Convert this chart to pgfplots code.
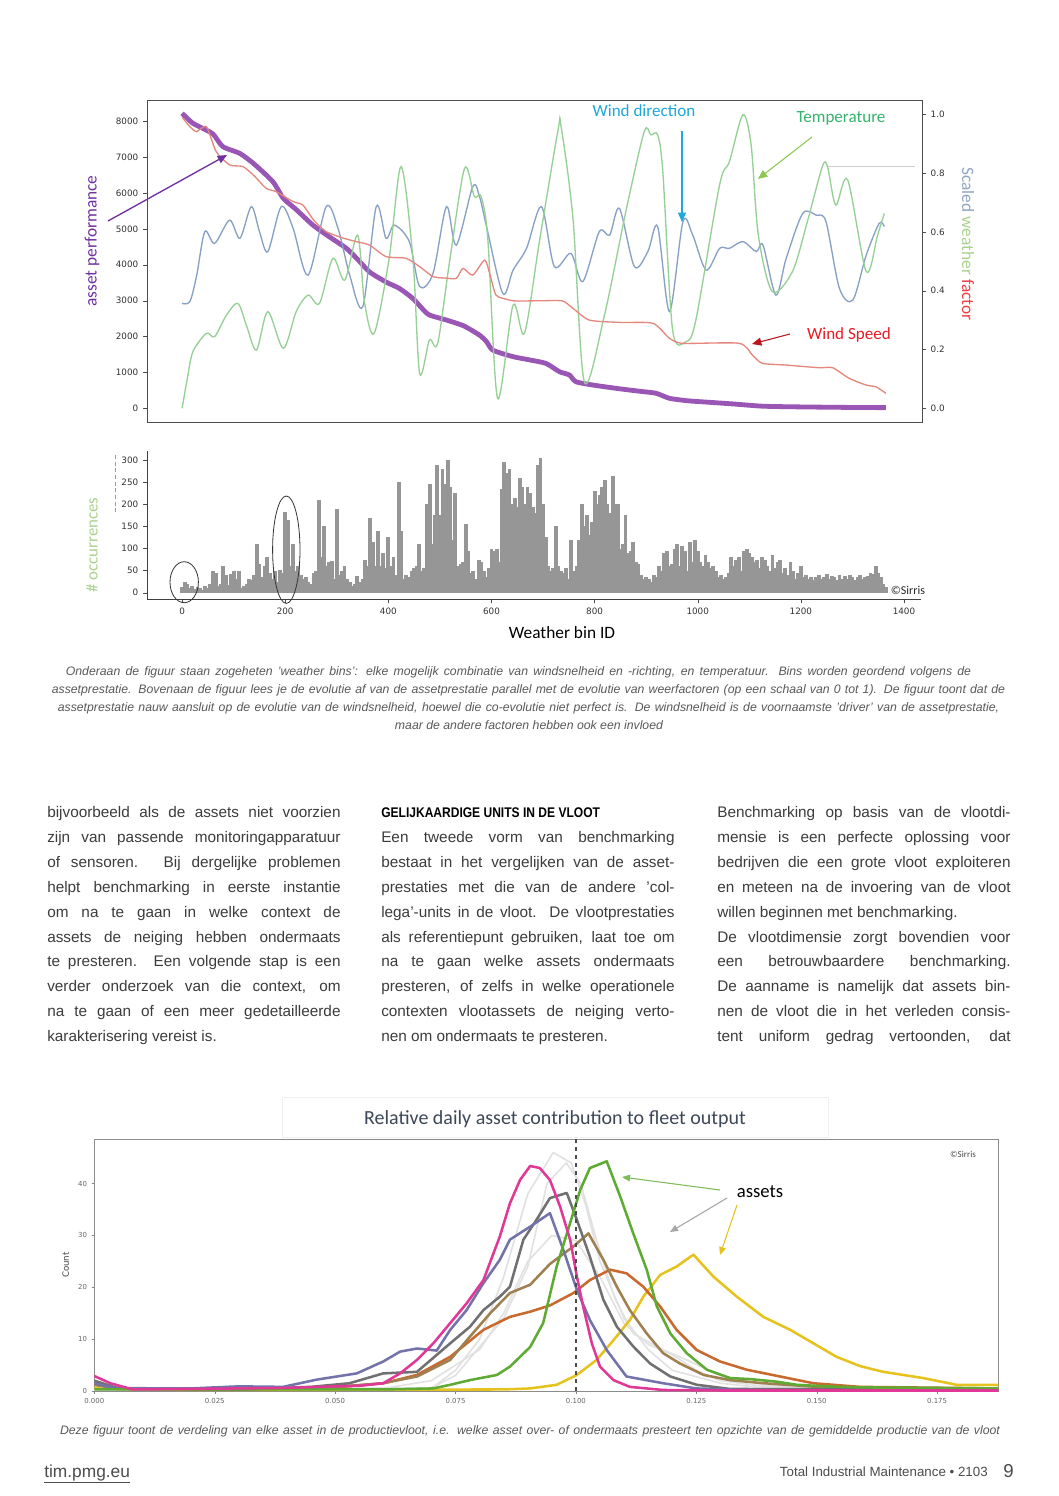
\documentclass[border=0pt]{standalone}
\usepackage{fontspec}
\setmainfont{Liberation Sans}
\newfontfamily\carlito{Carlito}
\newfontfamily\dejavu{DejaVu Sans}
\usepackage{pgfplots}
\pgfplotsset{compat=1.18}
\usetikzlibrary{arrows.meta}

\definecolor{perf}{RGB}{142,68,173}
\definecolor{perflab}{RGB}{112,48,160}
\definecolor{wspeed}{RGB}{228,135,125}
\definecolor{wdir}{RGB}{135,160,196}
\definecolor{temp}{RGB}{150,208,150}
\definecolor{labdir}{RGB}{30,168,220}
\definecolor{labtemp}{RGB}{52,180,108}
\definecolor{labspeed}{RGB}{232,28,36}
\definecolor{arrtemp}{RGB}{140,200,80}
\definecolor{lightgreen}{RGB}{169,209,142}
\definecolor{scaledblue}{RGB}{142,165,195}
\definecolor{histgray}{RGB}{150,150,150}
\definecolor{cmag}{RGB}{225,55,150}
\definecolor{cslate}{RGB}{115,115,170}
\definecolor{cdgray}{RGB}{112,112,112}
\definecolor{ctan}{RGB}{160,128,80}
\definecolor{corange}{RGB}{200,105,45}
\definecolor{cgreen}{RGB}{95,170,50}
\definecolor{cyellow}{RGB}{230,194,30}
\definecolor{cfaint}{RGB}{225,225,225}
\definecolor{bodytext}{RGB}{60,60,60}
\definecolor{titlecol}{RGB}{60,72,88}

% one justified text line: x, baseline y, text
\newcommand\jl[3]{\node[anchor=base west,inner sep=0] at (#1,#2) {\makebox[220pt][s]{#3}};}
\newcommand\lastline[3]{\node[anchor=base west,inner sep=0] at (#1,#2) {#3};}

\begin{document}
\begin{tikzpicture}[x=0.75pt,y=0.75pt]
\fill[white] (0,0) rectangle (1058,-1496);
\path[use as bounding box] (0,0) rectangle (1058,-1496);

%%%%%%%%%%%%%%%% top chart: asset performance (left axis)
\begin{axis}[
  at={(110.25pt,-75pt)}, anchor=north west,
  width=581.25pt, height=241.5pt, scale only axis,
  xmin=-68, xmax=1433, ymin=-380, ymax=8590,
  xtick=\empty,
  ytick={0,1000,2000,3000,4000,5000,6000,7000,8000},
  yticklabels={0,1000,2000,3000,4000,5000,6000,7000,8000},
  ytick pos=left, tick align=outside,
  major tick length=3pt,
  axis line style={black!70},
  tick style={black!70},
  yticklabel style={font=\dejavu\fontsize{6.6}{8}\selectfont, text=black!80},
]
\addplot[perf, line width=3.6pt, smooth, tension=0.4, opacity=0.9] coordinates {
(0,8220) (20,7950) (40,7800) (60,7640) (79,7290) (112,7100) (140,6800) (176,6310)
(196,5850) (220,5550) (253,5110) (285,4780) (318,4460) (340,4150) (363,3800)
(395,3520) (421,3340) (447,3060) (465,2780) (479,2600) (512,2460) (545,2300)
(576,2040) (590,1850) (602,1620) (641,1440) (673,1350) (705,1250) (731,1020)
(750,930) (763,740) (800,640) (850,540) (890,470) (918,420) (944,280) (980,210)
(1020,170) (1070,120) (1125,60) (1200,40) (1300,25) (1363,20)};
\end{axis}

%%%%%%%%%%%%%%%% top chart: scaled weather factors (right axis)
\begin{axis}[
  at={(110.25pt,-75pt)}, anchor=north west,
  width=581.25pt, height=241.5pt, scale only axis,
  xmin=-68, xmax=1433, ymin=-0.0466, ymax=1.0486,
  hide x axis, axis y line*=right, axis line style={black!70,-},
  ytick={0,0.2,0.4,0.6,0.8,1.0},
  yticklabels={0.0,0.2,0.4,0.6,0.8,1.0},
  tick align=outside, major tick length=3pt, tick style={black!70},
  yticklabel style={font=\dejavu\fontsize{6.6}{8}\selectfont, text=black!80},
]
\addplot[wdir, line width=1pt, smooth, tension=0.5] coordinates {
(0,0.357) (15,0.363) (28,0.45) (44,0.601) (63,0.561) (92,0.640) (112,0.578)
(134,0.686) (150,0.60) (166,0.533) (192,0.686) (215,0.612) (244,0.453) (279,0.686)
(302,0.612) (325,0.45) (350,0.346) (376,0.686) (395,0.578) (411,0.623) (440,0.567)
(460,0.414) (486,0.459) (512,0.686) (531,0.555) (563,0.754) (576,0.720) (589,0.623)
(621,0.391) (641,0.470) (667,0.544) (696,0.686) (721,0.482) (753,0.527) (776,0.431)
(808,0.601) (828,0.589) (847,0.680) (876,0.482) (902,0.533) (921,0.618) (944,0.329)
(970,0.635) (989,0.589) (1015,0.470) (1041,0.544) (1060,0.544) (1086,0.567)
(1112,0.533) (1125,0.555) (1150,0.385) (1170,0.510) (1202,0.663) (1228,0.657)
(1247,0.635) (1273,0.408) (1299,0.368) (1325,0.521) (1350,0.629) (1360,0.618)};
\addplot[temp, line width=1pt, smooth, tension=0.5] coordinates {
(0,0.0) (10,0.10) (21,0.193) (47,0.255) (63,0.244) (86,0.317) (108,0.357) (125,0.28)
(144,0.198) (166,0.329) (196,0.204) (221,0.329) (244,0.385) (266,0.357) (292,0.510)
(315,0.436) (340,0.589) (353,0.363) (372,0.255) (401,0.510) (424,0.822) (447,0.510)
(460,0.119) (479,0.232) (495,0.221) (518,0.499) (547,0.816) (566,0.720) (579,0.720)
(592,0.578) (611,0.034) (641,0.351) (663,0.255) (692,0.567) (728,0.946) (734,0.958)
(757,0.646) (779,0.090) (818,0.317) (860,0.674) (895,0.941) (908,0.930) (921,0.930)
(931,0.805) (950,0.266) (976,0.227) (995,0.300) (1041,0.760) (1060,0.839)
(1086,0.998) (1102,0.896) (1116,0.589) (1143,0.397) (1182,0.465) (1211,0.635)
(1240,0.822) (1250,0.822) (1266,0.691) (1289,0.777) (1325,0.465) (1347,0.589)
(1360,0.663)};
\addplot[wspeed, line width=1pt, smooth, tension=0.4] coordinates {
(0,0.99) (15,0.958) (28,0.941) (47,0.958) (66,0.873) (92,0.828) (118,0.822)
(140,0.79) (163,0.748) (182,0.737) (215,0.703) (234,0.691) (255,0.64) (279,0.601)
(310,0.58) (337,0.567) (363,0.555) (395,0.516) (434,0.510) (460,0.482) (486,0.448)
(510,0.443) (531,0.442) (544,0.476) (563,0.453) (586,0.504) (597,0.45) (608,0.385)
(630,0.37) (647,0.365) (700,0.366) (737,0.365) (757,0.340) (789,0.300) (850,0.292)
(912,0.289) (944,0.238) (970,0.221) (1079,0.221) (1105,0.18) (1124,0.153)
(1170,0.147) (1234,0.138) (1260,0.138) (1292,0.102) (1325,0.079) (1344,0.073)
(1363,0.051)};
\end{axis}

% top chart annotations
\draw[black!20, line width=0.5pt] (828,-166) -- (915,-166);
\node[font=\carlito\fontsize{13}{15}\selectfont, text=perflab, rotate=90] at (92,-241) {asset performance};
\node[font=\carlito\fontsize{13}{15}\selectfont, rotate=-90] at (968,-244)
  {\textcolor{scaledblue}{Scaled} \textcolor{lightgreen}{weather} \textcolor{labspeed!85}{factor}};
\node[font=\carlito\fontsize{12.8}{15}\selectfont, text=labdir] at (644,-111) {Wind direction};
\node[font=\carlito\fontsize{12.8}{15}\selectfont, text=labtemp] at (841,-118) {Temperature};
\node[font=\carlito\fontsize{12.8}{15}\selectfont, text=labspeed] at (849,-335) {Wind Speed};
\draw[labdir, line width=0.8pt, -{Triangle[length=7pt,width=6pt]}] (682,-131) -- (682,-222);
\draw[arrtemp, line width=0.8pt, -{Triangle[length=7pt,width=6pt]}] (812,-137) -- (758,-179);
\draw[labspeed!80!black, line width=0.8pt, -{Triangle[length=7pt,width=6pt]}] (790,-334) -- (752,-344);
\draw[perflab, line width=1pt, -{Triangle[length=7pt,width=6pt]}] (108,-221) -- (227,-155);

%%%%%%%%%%%%%%%% occurrences histogram
\begin{axis}[
  at={(110.25pt,-449.475pt)}, anchor=south west,
  width=580.5pt, height=111pt, scale only axis,
  xmin=-68, xmax=1433, ymin=-15, ymax=320,
  axis x line*=bottom, axis y line*=left, axis line style={black!75,-},
  xtick={0,200,400,600,800,1000,1200,1400},
  xticklabels={0,200,400,600,800,1000,1200,1400},
  ytick={0,50,100,150,200,250,300},
  yticklabels={0,50,100,150,200,250,300},
  tick align=outside, major tick length=3pt, tick style={black!70},
  ticklabel style={font=\dejavu\fontsize{6.6}{8}\selectfont, text=black!80},
]
\addplot[ycomb, histgray, line width=2.9pt] coordinates {
(0,12)(5,25)(10,20)(15,10)(20,14)(25,8)(30,12)(35,10)(40,6)(45,14)(50,10)(55,20)(60,50)(65,45)
(70,15)(75,20)(80,60)(85,40)(90,18)(95,42)(100,48)(105,30)(110,50)(115,10)(120,15)(125,20)
(130,32)(135,28)(140,40)(145,110)(150,65)(155,35)(160,60)(165,80)(170,45)(175,30)(180,50)
(185,25)(190,52)(195,45)(200,183)(205,165)(210,60)(215,110)(220,50)(225,60)(230,40)(235,32)
(240,35)(245,25)(250,20)(255,45)(260,50)(265,210)(270,80)(275,150)(280,60)(285,70)(290,72)
(295,30)(300,190)(305,40)(310,50)(315,60)(320,30)(325,25)(330,15)(335,20)(340,38)(345,25)
(350,30)(355,75)(360,60)(365,170)(370,115)(375,60)(380,140)(385,60)(390,90)(395,55)(400,125)
(405,60)(410,80)(415,40)(420,250)(425,140)(430,30)(435,40)(440,35)(445,50)(450,55)(455,60)
(460,110)(465,50)(470,55)(475,200)(480,245)(485,110)(490,175)(495,290)(500,175)(505,280)
(510,245)(515,300)(520,240)(525,120)(530,225)(535,60)(540,65)(545,70)(550,155)(555,95)
(560,45)(565,50)(570,30)(575,75)(580,70)(585,50)(590,35)(595,55)(600,100)(605,95)(610,100)
(615,70)(620,235)(625,295)(630,270)(635,280)(640,200)(645,215)(650,195)(655,260)(660,240)
(665,200)(670,240)(675,225)(680,195)(685,180)(690,290)(695,305)(700,200)(705,125)(710,60)
(715,50)(720,55)(725,150)(730,60)(735,50)(740,45)(745,55)(750,30)(755,120)(760,50)(765,60)
(770,120)(775,200)(780,150)(785,175)(790,130)(795,160)(800,230)(805,200)(810,220)(815,240)
(820,255)(825,200)(830,180)(835,265)(840,200)(845,200)(850,100)(855,110)(860,175)(865,90)
(870,95)(875,115)(880,70)(885,65)(890,40)(895,30)(900,35)(905,30)(910,25)(915,40)(920,35)
(925,60)(930,50)(935,90)(940,95)(945,60)(950,65)(955,100)(960,110)(965,60)(970,105)(975,95)
(980,50)(985,115)(990,70)(995,120)(1000,95)(1005,70)(1010,60)(1015,85)(1020,70)(1025,55)
(1030,60)(1035,50)(1040,35)(1045,40)(1050,30)(1055,35)(1060,45)(1065,80)(1070,60)(1075,75)
(1080,80)(1085,50)(1090,95)(1095,100)(1100,90)(1105,80)(1110,70)(1115,75)(1120,55)(1125,80)
(1130,75)(1135,60)(1140,50)(1145,85)(1150,55)(1155,70)(1160,75)(1165,45)(1170,55)(1175,40)
(1180,70)(1185,50)(1190,30)(1195,45)(1200,60)(1205,35)(1210,40)(1215,30)(1220,35)(1225,28)
(1230,35)(1235,40)(1240,30)(1245,35)(1250,42)(1255,30)(1260,38)(1265,35)(1270,28)(1275,40)
(1280,32)(1285,38)(1290,30)(1295,40)(1300,35)(1305,28)(1310,35)(1315,40)(1320,30)(1325,35)
(1330,38)(1335,45)(1340,42)(1345,60)(1350,45)(1355,35)(1360,20)(1365,12)};
\end{axis}

\node[font=\carlito\fontsize{12.6}{15}\selectfont, text=lightgreen, rotate=90] at (92,-545) {\# occurrences};
\draw[black!40, densely dashed, line width=0.4pt] (115,-455) -- (115,-513);
\node[font=\carlito\fontsize{13}{15}\selectfont] at (562,-633) {Weather bin ID};
\node[font=\carlito\fontsize{9}{11}\selectfont, text=black!85] at (908,-590) {\copyright Sirris};
\draw[black!80, line width=0.6pt] (184.2,-582.2) ellipse [x radius=14.2, y radius=20.5];
\draw[black!80, line width=0.6pt] (286.3,-549.7) ellipse [x radius=13.7, y radius=53.7];

%%%%%%%%%%%%%%%% caption 1
\begin{scope}[every node/.style={inner sep=0, font=\itshape\fontsize{9.2}{11}\selectfont, text=black!65}]
\node[anchor=base] at (518.5,-675) {\makebox[679pt][s]{Onderaan de figuur staan zogeheten 'weather bins': elke mogelijk combinatie van windsnelheid en -richting, en temperatuur. Bins worden geordend volgens de}};
\node[anchor=base] at (528.5,-693) {\makebox[715pt][s]{assetprestatie. Bovenaan de figuur lees je de evolutie af van de assetprestatie parallel met de evolutie van weerfactoren (op een schaal van 0 tot 1). De figuur toont dat de}};
\node[anchor=base] at (528.5,-711) {\makebox[706pt][s]{assetprestatie nauw aansluit op de evolutie van de windsnelheid, hoewel die co-evolutie niet perfect is. De windsnelheid is de voornaamste 'driver' van de assetprestatie,}};
\node[anchor=base] at (529,-729) {maar de andere factoren hebben ook een invloed};
\end{scope}

%%%%%%%%%%%%%%%% body text, three columns
\begin{scope}[every node/.style={inner sep=0, font=\fontsize{11.5}{13}\selectfont, text=bodytext}]
\jl{47}{-817.5}{bijvoorbeeld als de assets niet voorzien}
\jl{47}{-842.4}{zijn van passende monitoringapparatuur}
\jl{47}{-867.3}{of sensoren. Bij dergelijke problemen}
\jl{47}{-892.2}{helpt benchmarking in eerste instantie}
\jl{47}{-917.1}{om na te gaan in welke context de}
\jl{47}{-942.0}{assets de neiging hebben ondermaats}
\jl{47}{-966.9}{te presteren. Een volgende stap is een}
\jl{47}{-991.8}{verder onderzoek van die context, om}
\jl{47}{-1016.7}{na te gaan of een meer gedetailleerde}
\lastline{47}{-1041.6}{karakterisering vereist is.}

\node[anchor=base west, font=\bfseries\fontsize{10.5}{12}\selectfont, text=black] at (381,-817.5) {\scalebox{0.86}[1]{GELIJKAARDIGE UNITS IN DE VLOOT}};
\jl{381}{-842.4}{Een tweede vorm van benchmarking}
\jl{381}{-867.3}{bestaat in het vergelijken van de asset-}
\jl{381}{-892.2}{prestaties met die van de andere 'col-}
\jl{381}{-917.1}{lega'-units in de vloot. De vlootprestaties}
\jl{381}{-942.0}{als referentiepunt gebruiken, laat toe om}
\jl{381}{-966.9}{na te gaan welke assets ondermaats}
\jl{381}{-991.8}{presteren, of zelfs in welke operationele}
\jl{381}{-1016.7}{contexten vlootassets de neiging verto-}
\lastline{381}{-1041.6}{nen om ondermaats te presteren.}

\jl{717}{-817.5}{Benchmarking op basis van de vlootdi-}
\jl{717}{-842.4}{mensie is een perfecte oplossing voor}
\jl{717}{-867.3}{bedrijven die een grote vloot exploiteren}
\jl{717}{-892.2}{en meteen na de invoering van de vloot}
\lastline{717}{-917.1}{willen beginnen met benchmarking.}
\jl{717}{-942.0}{De vlootdimensie zorgt bovendien voor}
\jl{717}{-966.9}{een betrouwbaardere benchmarking.}
\jl{717}{-991.8}{De aanname is namelijk dat assets bin-}
\jl{717}{-1016.7}{nen de vloot die in het verleden consis-}
\jl{717}{-1041.6}{tent uniform gedrag vertoonden, dat}
\end{scope}

%%%%%%%%%%%%%%%% bottom chart
\draw[black!6, line width=0.6pt] (282,-1097) rectangle (828,-1137);
\node[font=\carlito\fontsize{15}{18}\selectfont, text=titlecol] at (555,-1119) {Relative daily asset contribution to fleet output};

\begin{axis}[
  at={(70.725pt,-1043.25pt)}, anchor=south west,
  width=678pt, height=189pt, scale only axis,
  xmin=0, xmax=0.1877, ymin=0, ymax=48.6,
  xtick={0,0.025,0.05,0.075,0.1,0.125,0.15,0.175},
  xticklabels={0.000,0.025,0.050,0.075,0.100,0.125,0.150,0.175},
  ytick={0,10,20,30,40}, yticklabels={0,10,20,30,40},
  tick align=outside, major tick length=2pt,
  xtick pos=bottom, ytick pos=left,
  axis line style={black!45}, tick style={black!50},
  ticklabel style={font=\dejavu\fontsize{5.2}{6}\selectfont, text=black!60},
  ylabel={Count}, ylabel style={font=\dejavu\fontsize{6.5}{8}\selectfont, text=black!75},
  every axis plot/.append style={line width=1.9pt, line join=round},
]
\addplot[cfaint, line width=1.2pt] coordinates {(0,0.2) (0.07,0.5) (0.075,4) (0.08,10) (0.085,22) (0.09,38) (0.0953,46) (0.099,44) (0.102,36) (0.105,25) (0.11,14) (0.115,8) (0.12,4) (0.13,1.5) (0.14,0.5) (0.1877,0.2)};
\addplot[cfaint, line width=1.2pt] coordinates {(0,0.2) (0.06,0.5) (0.07,2) (0.08,8) (0.085,15) (0.09,25) (0.095,30) (0.1,29) (0.105,22) (0.11,13) (0.115,9) (0.12,7) (0.125,4) (0.13,2) (0.14,0.8) (0.1877,0.2)};
\addplot[cfaint, line width=1.2pt] coordinates {(0,0.2) (0.07,0.6) (0.075,3) (0.085,14) (0.09,24) (0.094,40) (0.098,44) (0.101,40) (0.104,30) (0.108,18) (0.112,11) (0.118,8) (0.123,6) (0.13,3) (0.14,1) (0.1877,0.2)};
\addplot[cyellow] coordinates {(0,0.5) (0.02,0.2) (0.085,0.3) (0.0905,0.5) (0.096,1.2) (0.1002,3.1) (0.1043,6) (0.1078,9.8) (0.1112,13.7) (0.114,18.2) (0.1175,22.4) (0.1209,24) (0.1244,26.3) (0.1285,22.1) (0.1334,18.2) (0.1389,14.3) (0.1445,11.8) (0.1493,9.2) (0.1541,6.6) (0.159,4.8) (0.1638,3.7) (0.1721,2.5) (0.179,1.2) (0.1877,1.2)};
\addplot[corange] coordinates {(0,1.2) (0.005,0.6) (0.03,0.3) (0.05,0.7) (0.06,1.5) (0.067,3.1) (0.0739,6.6) (0.0808,11.8) (0.0863,14.3) (0.0905,15.3) (0.0946,16.5) (0.0995,18.9) (0.1029,21.4) (0.1071,23.4) (0.1105,22.7) (0.114,20.1) (0.1175,16.3) (0.1209,11.8) (0.1251,7.9) (0.1299,5.7) (0.1355,4.1) (0.1424,2.8) (0.1493,1.5) (0.159,0.8) (0.1877,0.5)};
\addplot[ctan] coordinates {(0,1.2) (0.005,0.4) (0.03,0.3) (0.05,0.8) (0.06,1.5) (0.067,2.8) (0.0739,6) (0.078,10.5) (0.0822,15) (0.0863,18.9) (0.0905,20.5) (0.0946,24.5) (0.0995,27.9) (0.1026,30.4) (0.1057,25.3) (0.1085,20.1) (0.1112,15.6) (0.1147,11.1) (0.1181,7.3) (0.1216,5.3) (0.1265,3.1) (0.132,2.1) (0.139,1.5) (0.15,0.8) (0.16,0.5) (0.1877,0.5)};
\addplot[cdgray] coordinates {(0,2) (0.005,0.5) (0.03,0.3) (0.045,0.8) (0.053,1.5) (0.06,3.4) (0.067,3.7) (0.0739,9.2) (0.078,12.4) (0.0808,15.6) (0.0842,18.2) (0.0863,20.1) (0.0891,29.2) (0.0918,33) (0.0946,37.2) (0.0981,38.2) (0.1002,33) (0.1029,25.9) (0.1057,17.6) (0.1085,12.4) (0.1119,8.6) (0.1154,5.3) (0.1196,2.8) (0.1251,1.2) (0.132,0.4) (0.1877,0.2)};
\addplot[cslate] coordinates {(0,1.5) (0.0047,0.5) (0.02,0.5) (0.03,0.9) (0.0392,0.8) (0.0462,2.2) (0.0545,3.4) (0.06,5.7) (0.0635,7.6) (0.067,8.2) (0.0711,7.8) (0.0739,11.8) (0.0773,15.6) (0.0808,20.8) (0.0842,25.3) (0.0863,29.2) (0.0905,31.7) (0.0946,34.3) (0.0974,27.2) (0.1002,19.5) (0.1029,13.7) (0.1064,7.9) (0.1105,2.8) (0.1181,1.5) (0.125,0.5) (0.135,0.2) (0.1877,0.1)};
\addplot[cgreen] coordinates {(0,0.3) (0.06,0.3) (0.0704,0.5) (0.0739,1.2) (0.078,2.1) (0.0836,3.1) (0.0863,4.7) (0.0905,8.5) (0.0932,13.1) (0.096,24) (0.0988,32.4) (0.1009,38.8) (0.1029,43) (0.1064,44.3) (0.1092,37.5) (0.1119,30.4) (0.1147,23.4) (0.1168,16.3) (0.1196,11.1) (0.123,7.3) (0.1272,4.1) (0.132,2.5) (0.1362,2.3) (0.1417,1.8) (0.1459,1.2) (0.152,0.9) (0.159,0.7) (0.1877,0.5)};
\addplot[cmag] coordinates {(0,2.9) (0.0033,1.5) (0.008,0.3) (0.02,0.4) (0.03,0.5) (0.04,0.6) (0.05,0.9) (0.055,1.0) (0.06,1.5) (0.0635,3.4) (0.067,6) (0.0704,9.2) (0.0739,13.1) (0.0773,16.9) (0.0808,21.4) (0.0842,29.8) (0.0863,36.2) (0.0884,40.7) (0.0905,43.4) (0.0925,43) (0.0946,40.7) (0.0967,35.6) (0.0988,29.2) (0.1002,22.1) (0.1015,16.3) (0.1033,9.2) (0.105,4.7) (0.1078,2.1) (0.1112,0.8) (0.1181,0.2) (0.13,0.1) (0.1877,0.1)};
\addplot[black!70, dashed, line width=1pt] coordinates {(0.1,0) (0.1,48.6)};
\end{axis}

\node[font=\carlito\fontsize{6.8}{8}\selectfont, text=black!70] at (963,-1154) {\copyright Sirris};
\node[font=\carlito\fontsize{14}{16}\selectfont] at (760,-1192) {assets};
\draw[cgreen!80!white, line width=0.8pt, -{Triangle[length=6pt,width=5pt]}] (720,-1190) -- (622,-1177);
\draw[black!35, line width=0.8pt, -{Triangle[length=6pt,width=5pt]}] (727,-1198) -- (670,-1232);
\draw[cyellow, line width=0.8pt, -{Triangle[length=6pt,width=5pt]}] (737,-1205) -- (720,-1255);

\node[anchor=base, inner sep=0, font=\itshape\fontsize{9.2}{11}\selectfont, text=black!65] at (530,-1434) {\makebox[705pt][s]{Deze figuur toont de verdeling van elke asset in de productievloot, i.e. welke asset over- of ondermaats presteert ten opzichte van de gemiddelde productie van de vloot}};

%%%%%%%%%%%%%%%% footer
\node[anchor=base west, inner sep=0, font=\fontsize{13}{15}\selectfont, text=black!70] at (44,-1477) {\underline{tim.pmg.eu}};
\node[anchor=base east, inner sep=0, font=\fontsize{10}{12}\selectfont, text=black!70] at (988,-1476) {Total Industrial Maintenance \textbullet\ 2103};
\node[anchor=base west, inner sep=0, font=\fontsize{14}{16}\selectfont, text=black!70] at (1003,-1477) {9};
\end{tikzpicture}
\end{document}
